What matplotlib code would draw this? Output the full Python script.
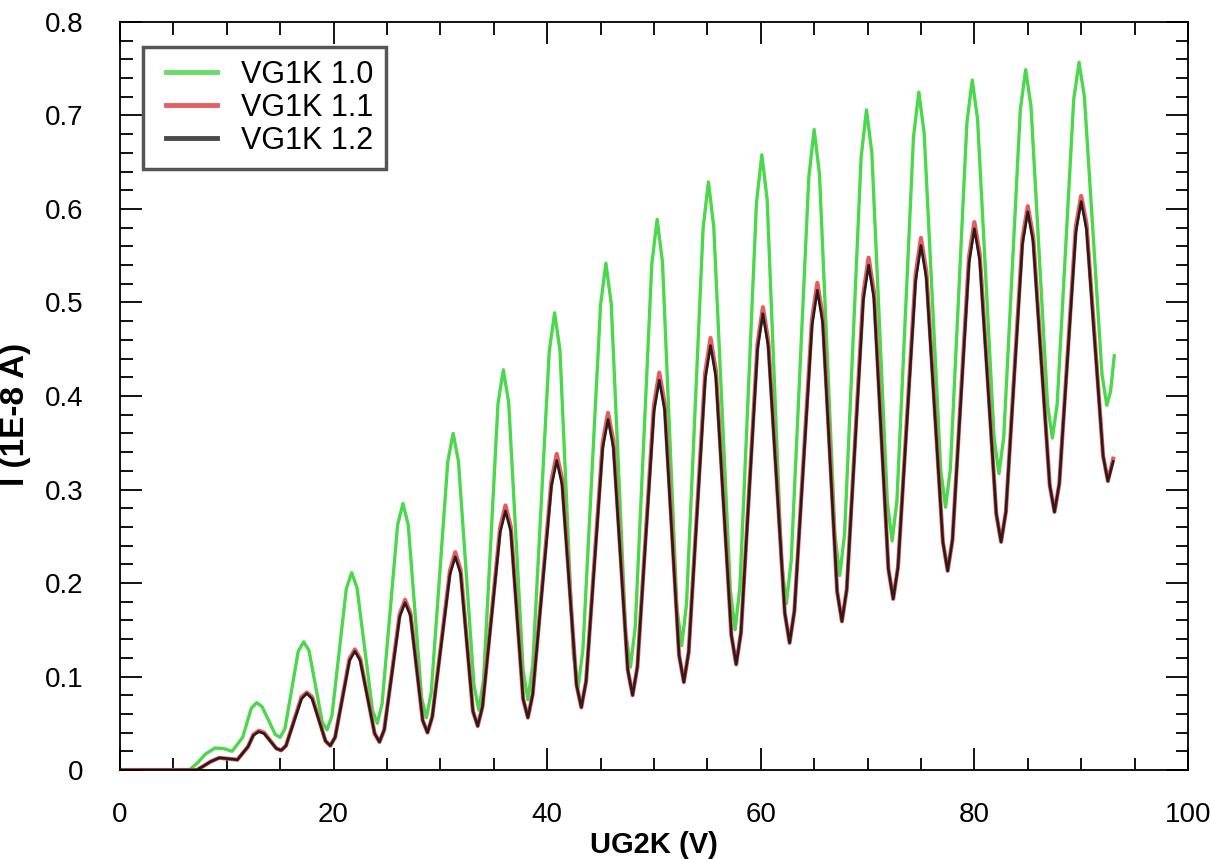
import matplotlib
matplotlib.use("Agg")
import matplotlib.pyplot as plt
from matplotlib.ticker import MultipleLocator
from matplotlib.legend_handler import HandlerLine2D

plt.rcParams['font.family'] = ['Liberation Sans', 'DejaVu Sans']

# values: UG2K in V, current in 1E-8 A
u_10 = [0, 6.5, 7.3, 8.0, 8.9, 9.7, 10.5, 11.5, 12.3, 12.8, 13.3,
        14.55, 15.0, 15.45, 16.7, 17.2, 17.7,
        18.95, 19.4, 19.85, 21.2, 21.7, 22.2,
        23.65, 24.1, 24.55, 26.0, 26.5, 27.0,
        28.25, 28.7, 29.15, 30.7, 31.2, 31.7,
        33.15, 33.6, 34.05, 35.4, 35.9, 36.4,
        37.75, 38.2, 38.65, 40.2, 40.7, 41.2,
        42.45, 42.9, 43.35, 45.0, 45.5, 46.0,
        47.35, 47.8, 48.25, 49.8, 50.3, 50.8,
        52.15, 52.6, 53.05, 54.6, 55.1, 55.6,
        57.15, 57.6, 58.05, 59.6, 60.1, 60.6,
        61.95, 62.4, 62.85, 64.5, 65.0, 65.5,
        66.95, 67.4, 67.85, 69.4, 69.9, 70.4,
        71.85, 72.3, 72.75, 74.3, 74.8, 75.3,
        76.85, 77.3, 77.75, 79.3, 79.8, 80.3,
        81.85, 82.3, 82.75, 84.3, 84.8, 85.3,
        86.85, 87.3, 87.75, 89.3, 89.8, 90.3,
        91.95, 92.4, 92.75, 93.1]
i_10 = [0, 0, 0.008, 0.017, 0.0235, 0.023, 0.020, 0.035, 0.066, 0.072, 0.068,
        0.038, 0.035, 0.044, 0.127, 0.137, 0.128,
        0.051, 0.043, 0.058, 0.194, 0.211, 0.195,
        0.064, 0.050, 0.071, 0.262, 0.285, 0.262,
        0.077, 0.056, 0.083, 0.330, 0.360, 0.330,
        0.091, 0.064, 0.097, 0.392, 0.428, 0.393,
        0.107, 0.075, 0.112, 0.448, 0.489, 0.449,
        0.124, 0.088, 0.129, 0.497, 0.542, 0.499,
        0.149, 0.110, 0.153, 0.541, 0.589, 0.543,
        0.174, 0.133, 0.178, 0.579, 0.629, 0.581,
        0.193, 0.150, 0.196, 0.607, 0.658, 0.610,
        0.221, 0.178, 0.224, 0.634, 0.685, 0.637,
        0.251, 0.208, 0.253, 0.656, 0.706, 0.660,
        0.287, 0.245, 0.288, 0.677, 0.725, 0.681,
        0.321, 0.281, 0.322, 0.692, 0.738, 0.696,
        0.355, 0.317, 0.356, 0.706, 0.749, 0.710,
        0.391, 0.355, 0.391, 0.717, 0.757, 0.720,
        0.423, 0.390, 0.405, 0.443]

u_11 = [0, 7.2, 7.8, 8.5, 9.3, 10.2, 11.0, 12.0, 12.5, 13.0, 13.5,
        14.65, 15.1, 15.55, 17.0, 17.5, 18.0,
        19.25, 19.7, 20.15, 21.5, 22.0, 22.5,
        23.85, 24.3, 24.75, 26.2, 26.7, 27.2,
        28.35, 28.8, 29.25, 30.9, 31.4, 31.9,
        33.05, 33.5, 33.95, 35.6, 36.1, 36.6,
        37.75, 38.2, 38.65, 40.4, 40.9, 41.4,
        42.75, 43.2, 43.65, 45.2, 45.7, 46.2,
        47.55, 48.0, 48.45, 50.0, 50.5, 51.0,
        52.35, 52.8, 53.25, 54.8, 55.3, 55.8,
        57.25, 57.7, 58.15, 59.7, 60.2, 60.7,
        62.25, 62.7, 63.15, 64.8, 65.3, 65.8,
        67.15, 67.6, 68.05, 69.6, 70.1, 70.6,
        71.95, 72.4, 72.85, 74.5, 75.0, 75.5,
        77.05, 77.5, 77.95, 79.5, 80.0, 80.5,
        82.05, 82.5, 82.95, 84.5, 85.0, 85.5,
        87.05, 87.5, 87.95, 89.5, 90.0, 90.5,
        92.05, 92.5, 93.0]
i_11 = [0, 0, 0.004, 0.009, 0.013, 0.012, 0.011, 0.025, 0.038, 0.042, 0.040,
        0.023, 0.021, 0.026, 0.078, 0.083, 0.078,
        0.031, 0.026, 0.035, 0.119, 0.129, 0.119,
        0.039, 0.030, 0.043, 0.167, 0.182, 0.168,
        0.053, 0.040, 0.057, 0.213, 0.233, 0.214,
        0.063, 0.047, 0.068, 0.259, 0.283, 0.260,
        0.076, 0.056, 0.081, 0.309, 0.338, 0.311,
        0.091, 0.067, 0.095, 0.350, 0.382, 0.352,
        0.107, 0.080, 0.110, 0.390, 0.425, 0.392,
        0.123, 0.094, 0.126, 0.425, 0.462, 0.427,
        0.144, 0.113, 0.147, 0.456, 0.495, 0.459,
        0.168, 0.136, 0.170, 0.482, 0.521, 0.485,
        0.191, 0.159, 0.193, 0.509, 0.548, 0.511,
        0.215, 0.183, 0.217, 0.530, 0.569, 0.533,
        0.244, 0.213, 0.246, 0.549, 0.586, 0.552,
        0.274, 0.244, 0.276, 0.568, 0.603, 0.571,
        0.305, 0.276, 0.306, 0.581, 0.614, 0.584,
        0.336, 0.309, 0.333]

u_12 = [0, 7.2, 7.8, 8.5, 9.3, 10.2, 11.0, 12.0, 12.5, 13.0, 13.5,
        14.65, 15.1, 15.55, 17.0, 17.5, 18.0,
        19.25, 19.7, 20.15, 21.5, 22.0, 22.5,
        23.85, 24.3, 24.75, 26.2, 26.7, 27.2,
        28.35, 28.8, 29.25, 30.9, 31.4, 31.9,
        33.05, 33.5, 33.95, 35.6, 36.1, 36.6,
        37.75, 38.2, 38.65, 40.4, 40.9, 41.4,
        42.75, 43.2, 43.65, 45.2, 45.7, 46.2,
        47.55, 48.0, 48.45, 50.0, 50.5, 51.0,
        52.35, 52.8, 53.25, 54.8, 55.3, 55.8,
        57.25, 57.7, 58.15, 59.7, 60.2, 60.7,
        62.25, 62.7, 63.15, 64.8, 65.3, 65.8,
        67.15, 67.6, 68.05, 69.6, 70.1, 70.6,
        71.95, 72.4, 72.85, 74.5, 75.0, 75.5,
        77.05, 77.5, 77.95, 79.5, 80.0, 80.5,
        82.05, 82.5, 82.95, 84.5, 85.0, 85.5,
        87.05, 87.5, 87.95, 89.5, 90.0, 90.5,
        92.05, 92.5, 93.0]
i_12 = [0, 0, 0.004, 0.009, 0.013, 0.012, 0.011, 0.025, 0.037, 0.041, 0.039,
        0.023, 0.021, 0.026, 0.076, 0.082, 0.076,
        0.031, 0.026, 0.035, 0.117, 0.127, 0.117,
        0.039, 0.030, 0.043, 0.164, 0.179, 0.165,
        0.053, 0.040, 0.057, 0.209, 0.228, 0.210,
        0.063, 0.047, 0.068, 0.254, 0.277, 0.255,
        0.076, 0.056, 0.081, 0.303, 0.331, 0.305,
        0.091, 0.067, 0.095, 0.344, 0.375, 0.345,
        0.107, 0.080, 0.110, 0.383, 0.417, 0.385,
        0.123, 0.094, 0.126, 0.418, 0.454, 0.420,
        0.144, 0.113, 0.147, 0.450, 0.488, 0.453,
        0.168, 0.136, 0.170, 0.475, 0.513, 0.478,
        0.191, 0.159, 0.193, 0.502, 0.540, 0.504,
        0.215, 0.183, 0.217, 0.523, 0.561, 0.526,
        0.244, 0.213, 0.246, 0.542, 0.579, 0.545,
        0.274, 0.244, 0.276, 0.562, 0.597, 0.565,
        0.305, 0.276, 0.306, 0.575, 0.608, 0.578,
        0.336, 0.309, 0.330]

labels = ['VG1K 1.0', 'VG1K 1.1', 'VG1K 1.2']


class PaddedLine(HandlerLine2D):
    # legend sample line that starts a bit in from the frame
    def create_artists(self, legend, orig_handle, xdescent, ydescent,
                       width, height, fontsize, trans):
        pad = 0.35 * fontsize
        return super().create_artists(legend, orig_handle, xdescent - pad, ydescent,
                                      width - pad, height, fontsize, trans)


fig = plt.figure(figsize=(12.11, 8.59), dpi=100)
ax = fig.add_axes([0.099, 0.1036, 0.882, 0.8708])

ax.plot(u_10, i_10, color='#4cd84c', lw=2.4, solid_joinstyle='round', label=labels[0])
ax.plot(u_11, i_11, color='#e45c5c', lw=3.0, solid_joinstyle='round', label=labels[1])
ax.plot(u_12, i_12, color='#2a1c1c', lw=1.9, solid_joinstyle='round', label=labels[2])

ax.set_xlim(0, 100)
ax.set_ylim(0, 0.8)
ax.xaxis.set_major_locator(MultipleLocator(20))
ax.xaxis.set_minor_locator(MultipleLocator(5))
ax.yaxis.set_major_locator(MultipleLocator(0.1))
ax.yaxis.set_minor_locator(MultipleLocator(0.02))
ax.yaxis.set_major_formatter(plt.FuncFormatter(lambda v, p: '0' if v == 0 else '%.1f' % v))

ax.tick_params(which='both', direction='in', top=True, right=True, width=1.3,
               labelsize=20, colors='black')
ax.tick_params(which='major', length=16)
ax.tick_params(which='minor', length=9)
ax.tick_params(axis='y', which='major', pad=26)
ax.tick_params(axis='x', which='major', pad=23)
for s in ax.spines.values():
    s.set_linewidth(1.3)

ax.set_xlabel('UG2K (V)', fontsize=21, fontweight='bold')
ax.xaxis.set_label_coords(0.5, -0.081)
ax.set_ylabel('I (1E-8 A)', fontsize=24, fontweight='bold')
ax.yaxis.set_label_coords(-0.083, 0.475)

leg = ax.legend(loc='upper left', bbox_to_anchor=(0.0215, 0.9666), borderaxespad=0,
                fontsize=22, handlelength=2.0, handletextpad=0.8, labelspacing=0.1,
                borderpad=0.42, fancybox=False, framealpha=1,
                handler_map={plt.Line2D: PaddedLine()})
leg.get_frame().set_edgecolor('#555555')
leg.get_frame().set_linewidth(2.5)
for ln, c in zip(leg.get_lines(), ['#66dd66', '#e46060', '#4a4a4a']):
    ln.set_linewidth(3.5)
    ln.set_color(c)

fig.savefig('out.png', dpi=100)
